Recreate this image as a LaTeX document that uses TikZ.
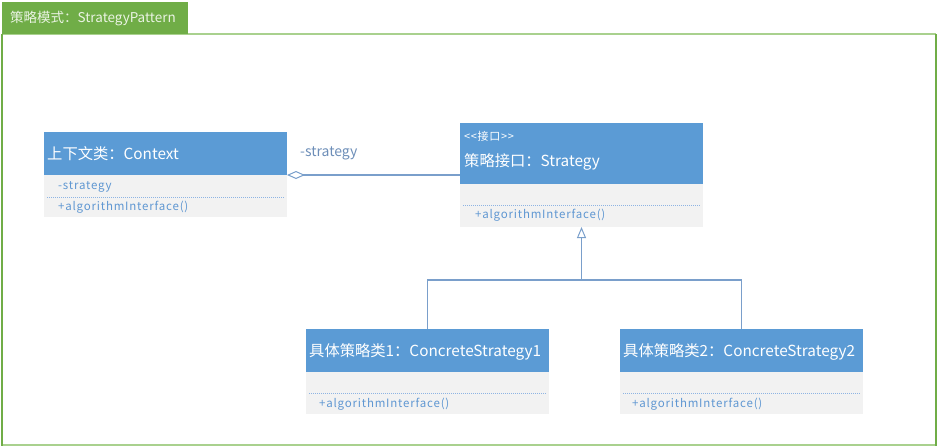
\documentclass[tikz,border=0pt]{standalone}
\usepackage{fontspec}
\setmainfont{Noto Sans CJK SC}
\newfontfamily\mfont[LetterSpace=7]{Noto Sans CJK SC}
\newfontfamily\sfont[LetterSpace=6]{Noto Sans CJK SC}
\usetikzlibrary{arrows.meta}
\definecolor{hblue}{HTML}{5B9BD5}
\definecolor{bgray}{HTML}{F2F2F2}
\definecolor{btext}{HTML}{5F97D2}
\definecolor{dotc}{HTML}{8EB4E3}
\definecolor{connc}{HTML}{7A9FCB}
\definecolor{tabg}{HTML}{70AD47}
\definecolor{framel}{HTML}{A9D18E}
\definecolor{labc}{HTML}{6D8EB8}
\tikzset{
  hdr/.style={fill=hblue, draw=none, anchor=north west, minimum width=243pt, inner sep=0pt, outer sep=0pt},
  bod/.style={fill=bgray, draw=none, anchor=north west, minimum width=243pt, inner sep=0pt, outer sep=0pt},
  htext/.style={anchor=west, text=white, font=\fontsize{15.3}{17}\selectfont, inner sep=0pt},
  stext/.style={anchor=west, text=white, font=\sfont\fontsize{11}{12}\selectfont, inner sep=0pt},
  mtext/.style={anchor=west, text=btext, font=\mfont\fontsize{11.5}{13}\selectfont, inner sep=0pt},
  dotline/.style={draw=dotc, line width=0.8pt, dash pattern=on 1pt off 1pt},
  conn/.style={draw=connc, line width=1.3pt},
}
\begin{document}
\begin{tikzpicture}[x=1pt,y=-1pt]
\useasboundingbox (0,0) rectangle (938,447);
% frame
\draw[framel, line width=2pt] (2,34) -- (936,34);
\draw[framel, line width=2.5pt] (2,445) -- (936,445);
\draw[tabg, line width=1.3pt] (2,34) -- (2,446);
\draw[tabg, line width=1.3pt] (936,34) -- (936,446);
\node[fill=tabg, anchor=north west, minimum width=186pt, minimum height=32pt, inner sep=0pt] (tab) at (2,2) {};
\node[anchor=west, text=white!85!tabg, font=\fontsize{13.5}{15}\selectfont, inner sep=0pt] (tabt) at (10,18) {策略模式：StrategyPattern};

% Context
\node[hdr, minimum height=43pt] (ctxh) at (44,132) {};
\node[bod, minimum height=42pt] (ctxb) at (44,175) {};
\node[htext] (ctxt) at (47,154) {上下文类：Context};
\node[mtext] (ctxa) at (58,186.5) {-strategy};
\draw[dotline] (47,197.5) -- (284,197.5);
\node[mtext] (ctxm) at (58,207.5) {+algorithmInterface()};

% Strategy
\node[hdr, minimum height=61pt] (sth) at (460,123) {};
\node[bod, minimum height=43pt] (stb) at (460,184) {};
\node[stext] (sts) at (464,136) {{<}{<}接口{>}{>}};
\node[htext] (stt) at (464,161.5) {策略接口：Strategy};
\draw[dotline] (463,205) -- (700,205);
\node[mtext] (stm) at (475,215) {+algorithmInterface()};

% Concrete 1
\node[hdr, minimum height=43pt] (c1h) at (306,329) {};
\node[bod, minimum height=42pt] (c1b) at (306,372) {};
\node[htext] (c1t) at (309,352) {具体策略类1：ConcreteStrategy1};
\draw[dotline] (309,393.5) -- (546,393.5);
\node[mtext] (c1m) at (319,404) {+algorithmInterface()};

% Concrete 2
\node[hdr, minimum height=43pt] (c2h) at (620,329) {};
\node[bod, minimum height=42pt] (c2b) at (620,372) {};
\node[htext] (c2t) at (623,352) {具体策略类2：ConcreteStrategy2};
\draw[dotline] (623,393.5) -- (860,393.5);
\node[mtext] (c2m) at (632,404) {+algorithmInterface()};

% aggregation
\draw[conn, {Diamond[open, length=18pt, width=8pt, line width=1pt]}-] (ctxh.south east) -- (ctxh.south east -| sth.west);
\node[anchor=west, text=labc, font=\fontsize{14}{15}\selectfont, inner sep=0pt] (agl) at (300,153) {-strategy};

% inheritance
\coordinate (j) at (581.5,280);
\draw[conn, -{Triangle[open, length=11pt, width=9pt, line width=1pt]}] (j) -- (stb.south);
\draw[conn] (c1h.north) |- (j);
\draw[conn] (c2h.north) |- (j);
\end{tikzpicture}
\end{document}
